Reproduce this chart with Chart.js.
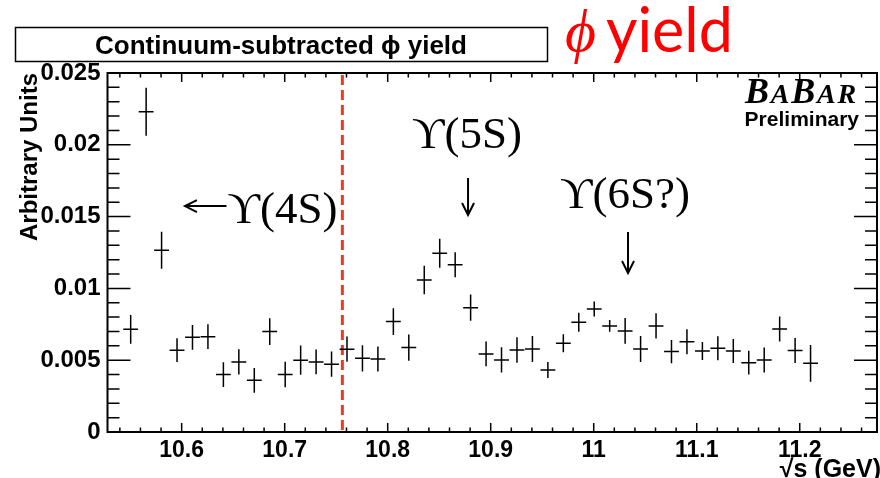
<!DOCTYPE html>
<html>
<head>
<meta charset="utf-8">
<script src="https://cdn.jsdelivr.net/npm/chart.js@4.4.1/dist/chart.umd.min.js"></script>
<style>
  html, body { margin: 0; padding: 0; background: #fff; }
  #wrap { width: 880px; height: 478px; position: relative; }
</style>
</head>
<body>
<div id="wrap"><canvas id="c" width="880" height="478"></canvas></div>
<script>
// Centre-of-mass energy of each bin (GeV)
const energies = [
  10.5505, 10.5655, 10.5805, 10.5955, 10.6105, 10.6255, 10.6405, 10.6555, 10.6705,
  10.6855, 10.7005, 10.7155, 10.7305, 10.7455, 10.7605, 10.7755, 10.7905, 10.8055,
  10.8205, 10.8355, 10.8505, 10.8655, 10.8805, 10.8955, 10.9105, 10.9255, 10.9405,
  10.9555, 10.9705, 10.9855, 11.0005, 11.0155, 11.0305, 11.0455, 11.0605, 11.0755,
  11.0905, 11.1055, 11.1205, 11.1355, 11.1505, 11.1655, 11.1805, 11.1955, 11.2105
];
// Continuum-subtracted phi yield (arbitrary units)
const yields = [
  0.00715, 0.02230, 0.01266, 0.00570, 0.00659, 0.00664, 0.00400, 0.00488, 0.00360,
  0.00699, 0.00400, 0.00500, 0.00488, 0.00472, 0.00577, 0.00513, 0.00509, 0.00769,
  0.00588, 0.01059, 0.01245, 0.01164, 0.00866, 0.00544, 0.00502, 0.00571, 0.00578,
  0.00432, 0.00618, 0.00764, 0.00856, 0.00739, 0.00704, 0.00578, 0.00739, 0.00560,
  0.00629, 0.00564, 0.00583, 0.00564, 0.00483, 0.00502, 0.00718, 0.00567, 0.00478
];
// Statistical uncertainty on each yield
const yieldErrors = [
  0.00100, 0.00167, 0.00129, 0.00082, 0.00086, 0.00086, 0.00086, 0.00088, 0.00086,
  0.00094, 0.00089, 0.00102, 0.00086, 0.00088, 0.00088, 0.00091, 0.00087, 0.00093,
  0.00091, 0.00099, 0.00101, 0.00087, 0.00091, 0.00087, 0.00088, 0.00088, 0.00090,
  0.00056, 0.00062, 0.00066, 0.00052, 0.00041, 0.00090, 0.00090, 0.00088, 0.00081,
  0.00087, 0.00062, 0.00084, 0.00084, 0.00083, 0.00087, 0.00087, 0.00087, 0.00128
];
const binHalfWidth = 0.0072;

const xTickValues = [10.6, 10.7, 10.8, 10.9, 11.0, 11.1, 11.2];
const xTickLabels = ['10.6', '10.7', '10.8', '10.9', '11', '11.1', '11.2'];
const yTickValues = [0, 0.005, 0.01, 0.015, 0.02, 0.025];
const yTickLabels = ['0', '0.005', '0.01', '0.015', '0.02', '0.025'];

// Upper edge of the Y(4S) region
const thresholdEnergy = 10.756;

const SANS = '"Liberation Sans", Arial, Helvetica, "DejaVu Sans", sans-serif';
const SERIF = '"Liberation Serif", "Times New Roman", "DejaVu Serif", serif';

function arrowDown(ctx, x, y0, y1) {
  ctx.beginPath();
  ctx.moveTo(x, y0); ctx.lineTo(x, y1);
  ctx.moveTo(x - 6, y1 - 12); ctx.lineTo(x, y1); ctx.lineTo(x + 6, y1 - 12);
  ctx.stroke();
}
function arrowLeft(ctx, x0, x1, y) {
  ctx.beginPath();
  ctx.moveTo(x0, y); ctx.lineTo(x1, y);
  ctx.moveTo(x1 + 12, y - 6); ctx.lineTo(x1, y); ctx.lineTo(x1 + 12, y + 6);
  ctx.stroke();
}

const histFrame = {
  id: 'histFrame',
  afterDatasetsDraw(chart) {
    const { ctx, chartArea: a, scales: { x, y } } = chart;
    ctx.save();

    // dashed boundary line
    ctx.strokeStyle = '#ef3a22';
    ctx.lineWidth = 3;
    ctx.setLineDash([10, 5]);
    ctx.beginPath();
    const tx = x.getPixelForValue(thresholdEnergy);
    ctx.moveTo(tx, a.top + 2); ctx.lineTo(tx, a.bottom - 2);
    ctx.stroke();
    ctx.setLineDash([]);

    // error-bar crosses
    ctx.strokeStyle = '#000';
    ctx.lineWidth = 1.5;
    ctx.beginPath();
    energies.forEach((e, i) => {
      const px = x.getPixelForValue(e);
      const py = y.getPixelForValue(yields[i]);
      ctx.moveTo(px, y.getPixelForValue(yields[i] - yieldErrors[i]));
      ctx.lineTo(px, y.getPixelForValue(yields[i] + yieldErrors[i]));
      ctx.moveTo(x.getPixelForValue(e - binHalfWidth), py);
      ctx.lineTo(x.getPixelForValue(e + binHalfWidth), py);
    });
    ctx.stroke();

    // frame with inward ticks on all four sides
    ctx.lineWidth = 1.5;
    ctx.beginPath();
    for (let i = Math.ceil(x.min / 0.02 - 1e-6); i * 0.02 <= x.max + 1e-9; i++) {
      const v = i * 0.02;
      const px = x.getPixelForValue(v);
      const major = Math.abs(v * 10 - Math.round(v * 10)) < 1e-6;
      const len = major ? 9 : 4.5;
      ctx.moveTo(px, a.bottom); ctx.lineTo(px, a.bottom - len);
      ctx.moveTo(px, a.top); ctx.lineTo(px, a.top + len);
    }
    for (let i = 0; i * 0.001 <= y.max + 1e-9; i++) {
      const py = y.getPixelForValue(i * 0.001);
      const len = i % 5 === 0 ? 23 : 12;
      ctx.moveTo(a.left, py); ctx.lineTo(a.left + len, py);
      ctx.moveTo(a.right, py); ctx.lineTo(a.right - len, py);
    }
    ctx.stroke();
    ctx.lineWidth = 2;
    ctx.strokeRect(a.left, a.top, a.right - a.left, a.bottom - a.top);

    // resonance labels
    ctx.fillStyle = '#000';
    ctx.textBaseline = 'alphabetic';
    ctx.textAlign = 'left';
    ctx.font = '45px ' + SERIF;
    ctx.fillText('ϒ(4S)', x.getPixelForValue(10.6445), y.getPixelForValue(0.01455));
    ctx.fillText('ϒ(5S)', x.getPixelForValue(10.8236), y.getPixelForValue(0.01978));
    ctx.fillText('ϒ(6S?)', x.getPixelForValue(10.9673), y.getPixelForValue(0.0156));
    ctx.lineWidth = 2;
    arrowLeft(ctx, x.getPixelForValue(10.6435), x.getPixelForValue(10.6032), y.getPixelForValue(0.01573));
    arrowDown(ctx, x.getPixelForValue(10.878), y.getPixelForValue(0.01769), y.getPixelForValue(0.01511));
    arrowDown(ctx, x.getPixelForValue(11.0333), y.getPixelForValue(0.01393), y.getPixelForValue(0.01107));

    // experiment logo
    ctx.textAlign = 'left';
    let lx = 745;
    [['B', 36], ['A', 28], ['B', 36], ['A', 28], ['R', 28]].forEach(([ch, sz]) => {
      ctx.font = 'italic bold ' + sz + 'px ' + SERIF;
      ctx.fillText(ch, lx, 103);
      lx += ctx.measureText(ch).width + 1.8;
    });
    ctx.font = 'bold 21px ' + SANS;
    ctx.textAlign = 'right';
    ctx.fillText('Preliminary', 859, 126);

    // axis titles
    ctx.font = 'bold 25px ' + SANS;
    ctx.textAlign = 'right';
    ctx.fillText('√s (GeV)', 881, 477);
    ctx.save();
    ctx.translate(37, a.top);
    ctx.rotate(-Math.PI / 2);
    ctx.font = 'bold 24px ' + SANS;
    ctx.textAlign = 'right';
    ctx.fillText('Arbitrary Units', 0, 0);
    ctx.restore();

    // title box
    ctx.lineWidth = 1.5;
    ctx.strokeRect(15.5, 27.5, 532, 34);
    ctx.font = 'bold 26px ' + SANS;
    ctx.textAlign = 'center';
    ctx.fillText('Continuum-subtracted ϕ yield', 281, 54);

    // red heading
    ctx.fillStyle = '#ff0000';
    ctx.textAlign = 'left';
    ctx.font = 'italic 60px ' + SERIF;
    ctx.fillText('ϕ', 565, 51);
    ctx.font = '61px Lato, "Open Sans", sans-serif';
    ctx.fillText('yield', 606, 52);

    ctx.restore();
  }
};

new Chart(document.getElementById('c'), {
  type: 'scatter',
  data: {
    datasets: [{
      data: energies.map((e, i) => ({ x: e, y: yields[i] })),
      pointRadius: 0,
      showLine: false
    }]
  },
  options: {
    responsive: false,
    animation: false,
    events: [],
    layout: { padding: { left: 0, right: 3, top: 73, bottom: 0 } },
    plugins: { legend: { display: false }, tooltip: { enabled: false } },
    scales: {
      x: {
        type: 'linear',
        min: 10.528,
        max: 11.275,
        grid: { display: false, drawTicks: false },
        border: { display: false },
        afterBuildTicks: s => { s.ticks = xTickValues.map(v => ({ value: v })); },
        afterFit: s => { s.height = 46; },
        ticks: {
          autoSkip: false, maxRotation: 0, padding: 5, color: '#000',
          font: { family: SANS, size: 23, weight: 'bold' },
          callback: (v, i) => xTickLabels[i]
        }
      },
      y: {
        type: 'linear',
        min: 0,
        max: 0.025,
        grid: { display: false, drawTicks: false },
        border: { display: false },
        afterBuildTicks: s => { s.ticks = yTickValues.map(v => ({ value: v })); },
        afterFit: s => { s.width = 107.5; },
        ticks: {
          autoSkip: false, padding: 7, color: '#000',
          font: { family: SANS, size: 24, weight: 'bold' },
          callback: (v, i) => yTickLabels[i]
        }
      }
    }
  },
  plugins: [histFrame]
});
</script>
</body>
</html>
